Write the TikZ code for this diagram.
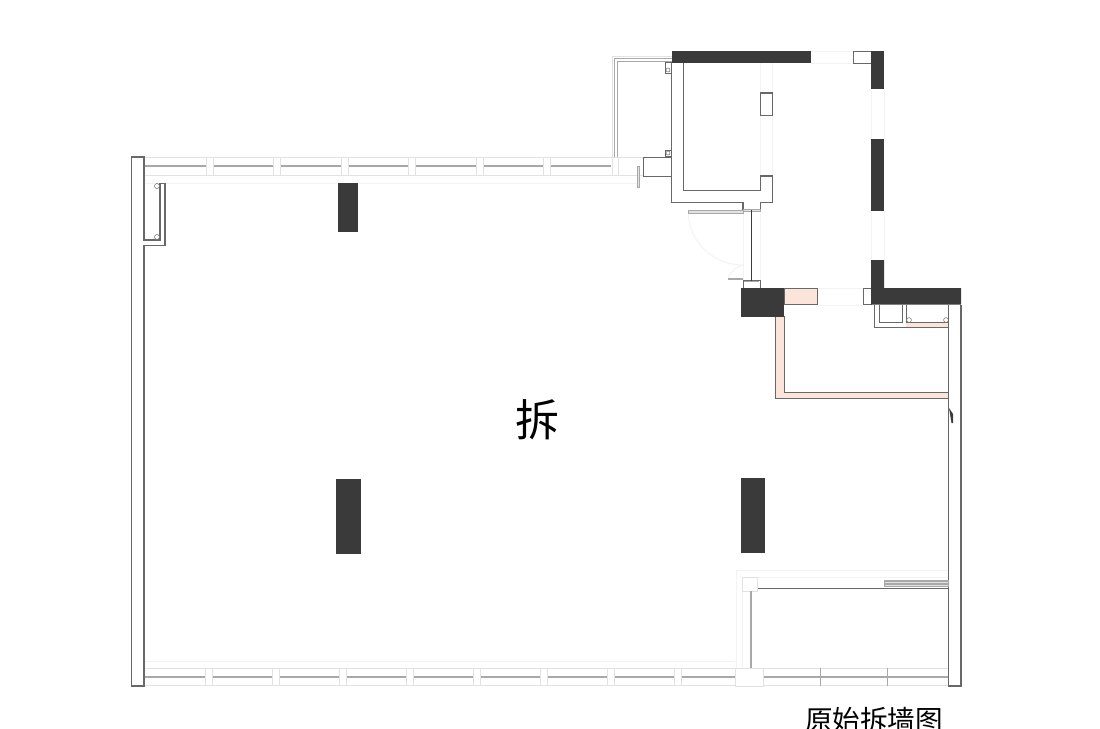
\documentclass[tikz,border=0pt]{standalone}
\usepackage{fontspec}
\newfontfamily\cjk{Noto Sans CJK SC}
\definecolor{wallblack}{HTML}{3A3A3A}
\definecolor{wallpink}{HTML}{FBE4DA}
\definecolor{linegray}{HTML}{686868}
\definecolor{glassgray}{HTML}{A8A8A8}
\definecolor{lightgray2}{HTML}{E2E2E2}
\definecolor{faintgray}{HTML}{F3F3F3}
\tikzset{
	wall/.style={fill=wallblack},
	outline/.style={draw=linegray,line width=1.2pt},
	thinline/.style={draw=linegray,line width=.9pt},
	pinkwall/.style={fill=wallpink,draw=linegray,line width=1pt},
	light/.style={draw=lightgray2,line width=1pt},
	faint/.style={draw=faintgray,line width=1pt},
	glass/.style={draw=glassgray,line width=2pt},
	pipe/.style={draw=linegray,line width=.5pt,fill=white},
}
\begin{document}
\begin{tikzpicture}[x=1pt,y=-1pt]
	\useasboundingbox (0,0) rectangle (1100,728);
	% faint guide lines
	\draw[faint] (145,183) -- (640,183);
	\draw[faint] (145,661) -- (735,661);
	\draw[faint] (736,668) -- (736,570) -- (948,570);
	\draw[faint] (757,577) -- (948,577);
	\draw[faint] (742,591) -- (742,668);
	\draw[faint] (811,51) -- (853,51) (811,63) -- (853,63);
	\draw[faint] (871,89) -- (871,139) (884,89) -- (884,139);
	\draw[faint] (871,211) -- (871,260) (884,211) -- (884,260);
	\draw[faint] (818,288) -- (863,288) (818,305) -- (863,305);
	\draw[faint] (760.3,63) -- (760.3,93) (772.7,63) -- (772.7,93);
	\draw[faint] (760.3,115) -- (760.3,176) (772.7,115) -- (772.7,176);
	\draw[faint] (743,214) -- (743,280) (760,214) -- (760,280);
	\draw[faint] (688.3,213) .. controls (688.3,240) and (712,265) .. (743,265);
	\draw[faint] (743,265) .. controls (735,267) and (730,272) .. (728,279);
	% top window band
	\draw[light] (145,157.5) -- (643,157.5) (145,175.7) -- (643,175.7);
	\foreach \xa/\xb in {145/206,213/273,280/341,348/408,415/476,483/543,550/611}
		\draw[glass] (\xa,166) -- (\xb,166);
	\foreach \xa in {206,273,341,408,476,543}{
		\draw[light] (\xa,157.5) -- (\xa,175.7);
		\draw[light] (\xa+7.5,157.5) -- (\xa+7.5,175.7);
	}
	\draw[light] (612,157.5) -- (612,175.7) (618,157.5) -- (618,175.7);
	% bottom window band
	\draw[light] (145,668) -- (948,668) (145,685.7) -- (948,685.7);
	\foreach \xa/\xb in {145/205,212/272,279/339,346/406,413/473,481/540,548/607,615/674,682/735,763/948}
		\draw[glass] (\xa,677) -- (\xb,677);
	\foreach \xa in {205,272,339,406,473,540,607,674}{
		\draw[light] (\xa,668) -- (\xa,685.7);
		\draw[light] (\xa+7,668) -- (\xa+7,685.7);
	}
	\draw[draw=glassgray,line width=.8pt] (820,668) -- (820,686) (887,668) -- (887,686);
	% balcony rail
	\draw[light,line width=1.2pt] (612.5,157) -- (612.5,56.5) -- (672,56.5);
	\draw[draw=glassgray,line width=.8pt] (614.5,157) -- (614.5,58.5) -- (672,58.5);
	\draw[draw=glassgray,line width=.8pt] (617,157) -- (617,61.7) -- (672,61.7);
	% left wall
	\draw[outline] (144,240) -- (160,240) -- (160,183.3) -- (165,183.3) -- (165,245.7) -- (144,245.7) -- (144,686) -- (131.7,686) -- (131.7,157) -- (144,157) -- cycle;
	\draw[pipe] (157,186) circle (2.5) (157,237) circle (2.5);
	% room above the door
	\draw[outline] (671.7,63) -- (671.7,202.7) -- (743,202.7) -- (743,210) -- (760.3,210) -- (760.3,202.7) -- (772.7,202.7) -- (772.7,176) -- (760.3,176) -- (760.3,190.3) -- (683.7,190.3) -- (683.7,63);
	\draw[outline] (760.3,93) rectangle (772.7,115.3);
	\draw[outline] (643.3,157.3) rectangle (671.7,176.7);
	\draw[thinline] (665,62.7) rectangle (671.7,73) (665,150) rectangle (671.7,156.7);
	\draw[pipe] (668,70) circle (2) (668,153) circle (2);
	\draw[thinline] (853,51) rectangle (871,63);
	\draw[thinline] (863,288) rectangle (871,304.7);
	% door and fixed panels
	\draw[draw=glassgray,line width=.9pt,fill=lightgray2] (688.3,210.5) rectangle (743,213);
	\draw[draw=glassgray,line width=.9pt,fill=lightgray2] (743,209.5) rectangle (760.3,211.5);
	\draw[draw=glassgray,line width=1.4pt] (727.7,279) -- (743,279);
	\draw[thinline] (743,288) -- (743,280) -- (760,280) -- (760,288);
	\draw[draw=glassgray,line width=1pt] (744,281.5) -- (759,281.5);
	\draw[draw=wallblack,line width=1pt] (751.3,210) -- (751.3,281);
	\draw[draw=glassgray,line width=.8pt,fill=lightgray2] (637.5,166) rectangle (639.5,187.6);
	% pink walls
	\draw[pinkwall] (784,288) rectangle (817.7,304.7);
	\draw[pinkwall] (784,316.7) -- (784,392.3) -- (948.7,392.3) -- (948.7,398.3) -- (775.7,398.3) -- (775.7,316.7) -- cycle;
	\fill[wallpink] (906,322.3) rectangle (948.7,327.3);
	% small stuff under the black band
	\draw[thinline] (874.7,304.7) -- (874.7,327.3) -- (948.7,327.3);
	\draw[thinline] (879.7,304.7) -- (879.7,322.3) -- (902,322.3) -- (902,304.7);
	\draw[thinline] (906,304.7) -- (906,322.3) -- (948.7,322.3);
	\draw[pipe] (909,320) circle (2.4) (946,320) circle (2.4);
	% right wall
	\draw[outline] (948.7,304.7) -- (948.7,686) -- (961,686) -- (961,304.7);
	\fill[wallblack] (949,408) -- (953,414) -- (953,423) -- (951.5,423) -- cycle;
	% lower right room
	\draw[thinline,line width=1.2pt] (757,588.7) -- (948,588.7);
	\draw[draw=glassgray,line width=.5pt,fill=lightgray2] (884,580) rectangle (948,586);
	\foreach \ya in {581.5,583,584.5}
		\draw[draw=glassgray,line width=.4pt] (884,\ya) -- (948,\ya);
	\draw[light] (742,577) rectangle (757,591);
	\draw[glass] (751,591) -- (751,668);
	\draw[thinline] (751.5,668) -- (763,668);
	\draw[light,fill=white] (735,668) rectangle (763,686);
	% black walls
	\fill[wall] (671.7,50.7) rectangle (810.7,63.3);
	\fill[wall] (871,50.7) rectangle (884,88.7);
	\fill[wall] (871,138.7) rectangle (884,210.7);
	\fill[wall] (871,260) -- (884,260) -- (884,288) -- (961,288) -- (961,304.7) -- (871,304.7) -- cycle;
	\fill[wall] (741,288) rectangle (784,316.7);
	% columns
	\fill[wall] (338,183) rectangle (358,232);
	\fill[wall] (335.5,479) rectangle (361,554);
	\fill[wall] (740.5,478) rectangle (765,553);
	% labels
	\node[inner sep=0pt,font=\cjk\fontsize{44}{44}\selectfont] (chai) at (537,420) {拆};
	\node[inner sep=0pt,font=\cjk\fontsize{27.6}{27.6}\selectfont] (title) at (874,720) {原始拆墙图};
\end{tikzpicture}
\end{document}
